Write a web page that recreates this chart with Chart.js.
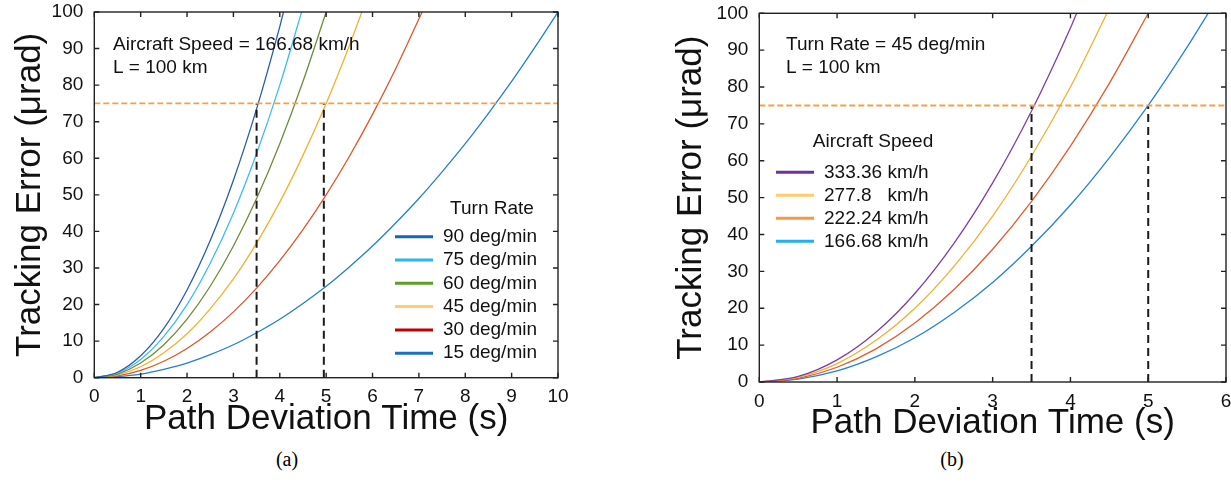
<!DOCTYPE html>
<html>
<head>
<meta charset="utf-8">
<script src="https://cdn.jsdelivr.net/npm/chart.js@4.4.0/dist/chart.umd.min.js"></script>
<style>
  body { margin: 0; background: #fff; }
  #wrap { position: relative; width: 1231px; height: 499px; overflow: hidden; background: #fff; }
  .panel { position: absolute; top: 0; }
  .cap { position: absolute; top: 448px; width: 60px; text-align: center;
         font: 20px "Liberation Serif", "Times New Roman", serif; color: #000; }
</style>
</head>
<body>
<div id="wrap">
  <canvas id="chartA" class="panel" style="left:0" width="615" height="440"></canvas>
  <canvas id="chartB" class="panel" style="left:615px" width="625" height="444"></canvas>
  <div class="cap" style="left:257px">(a)</div>
  <div class="cap" style="left:922px">(b)</div>
</div>
<script>
const FONT = '"Liberation Sans", Arial, sans-serif';

// panel (a): different turn rates, aircraft speed 166.68 km/h
const timesA = [0, 0.5, 1, 1.5, 2, 2.5, 3, 3.5, 4, 4.5, 5, 5.5, 6, 6.5, 7, 7.5, 8, 8.5, 9, 9.5, 10];
const turnRates = ['90 deg/min', '75 deg/min', '60 deg/min', '45 deg/min', '30 deg/min', '15 deg/min'];
const err90 = [0, 1.5, 6, 13.5, 24, 37.5, 54, 73.5, 96];
const err75 = [0, 1.3, 5, 11.3, 20, 31.3, 45, 61.3, 80];
const err60 = [0, 1, 4, 9, 16, 25, 36, 49, 64, 81, 100];
const err45 = [0, 0.8, 3, 6.8, 12, 18.8, 27, 36.8, 48, 60.8, 75, 90.8];
const err30 = [0, 0.5, 2, 4.5, 8, 12.5, 18, 24.5, 32, 40.5, 50, 60.5, 72, 84.5];
const err15 = [0, 0.3, 1, 2.3, 4, 6.3, 9, 12.3, 16, 20.3, 25, 30.3, 36, 42.3, 49, 56.3, 64, 72.3, 81, 90.3, 100];
// time at which each curve leaves the top of the frame (100 urad)
const exitA = [4.08, 4.47, 5.0, 5.77, 7.07, 10];
const dropTimesA = [3.5, 4.95];

// panel (b): different aircraft speeds, turn rate 45 deg/min
const timesB = [0, 0.5, 1, 1.5, 2, 2.5, 3, 3.5, 4, 4.5, 5, 5.5, 6];
const speeds = ['333.36 km/h', '277.8   km/h', '222.24 km/h', '166.68 km/h'];
const errS333 = [0, 1.5, 6, 13.5, 24, 37.5, 54, 73.5, 96];
const errS278 = [0, 1.3, 5, 11.3, 20, 31.3, 45, 61.3, 80];
const errS222 = [0, 1, 4, 9, 16, 25, 36, 49, 64, 81, 100];
const errS167 = [0, 0.8, 3, 6.8, 12, 18.8, 27, 36.8, 48, 60.8, 75, 90.8];
const exitB = [4.08, 4.47, 5.0, 5.77];
const dropTimesB = [3.5, 5.0];

const limitErr = 75;

const colorsA = ['#2a5ea8', '#3cbdf2', '#6e8c3a', '#f4b02e', '#e05628', '#2380cf'];
const keyColorsA = ['#1565c0', '#29b6f6', '#5f9c2a', '#ffcc66', '#c00000', '#1a6fc4'];
const colorsB = ['#7e3fa5', '#f0b030', '#e35b2b', '#2583cf'];
const keyColorsB = ['#7030a0', '#ffcc66', '#f79646', '#20b0f0'];

function toPoints(times, vals, exitT) {
    const pts = vals.map((v, i) => ({ x: times[i], y: v }));
    if (exitT > times[vals.length - 1]) {
        pts.push({ x: exitT, y: 100 });
    }
    return pts;
}

function curveSets(times, series, labels, exits, colors, keyColors) {
    return series.map((vals, i) => ({
        label: labels[i],
        data: toPoints(times, vals, exits[i]),
        borderColor: colors[i],
        legendColor: keyColors[i],
        borderWidth: 1.3,
        pointRadius: 0,
        cubicInterpolationMode: 'monotone',
        order: 1
    }));
}

function guideSets(xMax, drops) {
    const sets = [{
        data: [{ x: 0, y: limitErr }, { x: xMax, y: limitErr }],
        borderColor: '#f7a042',
        borderWidth: 1.8,
        borderDash: [6, 3],
        pointRadius: 0,
        order: 0
    }];
    drops.forEach(t => {
        sets.push({
            data: [{ x: t, y: 0 }, { x: t, y: limitErr }],
            borderColor: '#1a1a1a',
            borderWidth: 2,
            borderDash: [8, 5],
            pointRadius: 0,
            order: 0
        });
    });
    return sets;
}

// frame with inward tick marks, text notes and the legend box
const panelDeco = {
    id: 'panelDeco',
    afterDraw( chart, args, opts ){
        const { ctx, chartArea: a, scales: { x, y } } = chart;
        ctx.save();
        ctx.strokeStyle = '#222';
        ctx.lineWidth = 1.4;
        ctx.strokeRect(a.left, a.top, a.right - a.left, a.bottom - a.top);
        ctx.beginPath();
        x.ticks.forEach(t => {
            const px = x.getPixelForValue(t.value);
            ctx.moveTo(px, a.bottom); ctx.lineTo(px, a.bottom - 5);
            ctx.moveTo(px, a.top); ctx.lineTo(px, a.top + 5);
        });
        y.ticks.forEach(t => {
            const py = y.getPixelForValue(t.value);
            ctx.moveTo(a.left, py); ctx.lineTo(a.left + 5, py);
            ctx.moveTo(a.right, py); ctx.lineTo(a.right - 5, py);
        });
        ctx.stroke();

        ctx.font = '19px ' + FONT;
        ctx.fillStyle = '#111';
        ctx.textBaseline = 'middle';
        ctx.textAlign = 'left';
        opts.notes.forEach(n => ctx.fillText(n.text, n.x, n.y));

        const lg = opts.legend;
        ctx.textAlign = 'center';
        ctx.fillText(lg.title, lg.titleX, lg.titleY);
        ctx.textAlign = 'left';
        chart.data.datasets.filter(d => d.legendColor).forEach((d, i) => {
            const yy = lg.y0 + i * lg.step;
            ctx.strokeStyle = d.legendColor;
            ctx.lineWidth = 3;
            ctx.beginPath();
            ctx.moveTo(lg.x0, yy);
            ctx.lineTo(lg.x1, yy);
            ctx.stroke();
            ctx.fillText(d.label, lg.textX, yy);
        });
        ctx.restore();
    }
};

function makeOptions(xMax, yFitW, yTitlePad, xFitH, padding, deco) {
    return {
        responsive: false,
        animation: false,
        events: [],
        layout: { padding: padding },
        scales: {
            x: {
                type: 'linear', min: 0, max: xMax,
                ticks: { stepSize: 1, color: '#111', font: { size: 19, family: FONT }, padding: 8, maxRotation: 0 },
                grid: { display: false, drawTicks: false },
                border: { display: false },
                title: { display: true, text: 'Path Deviation Time (s)', color: '#111',
                         font: { size: 35, family: FONT }, padding: { top: 0, bottom: 0 } },
                afterFit( s ){
                    s.height = xFitH;
                    s.paddingLeft = 0;
                    s.paddingRight = 0;
                }
            },
            y: {
                type: 'linear', min: 0, max: 100,
                ticks: { stepSize: 10, color: '#111', font: { size: 19, family: FONT }, padding: 11 },
                grid: { display: false, drawTicks: false },
                border: { display: false },
                title: { display: true, text: 'Tracking Error (\u03bcrad)', color: '#111',
                         font: { size: 35, family: FONT }, padding: { top: yTitlePad, bottom: 0 } },
                afterFit( s ){
                    s.width = yFitW;
                    s.paddingTop = 0;
                    s.paddingBottom = 0;
                }
            }
        },
        plugins: {
            legend: { display: false },
            tooltip: { enabled: false },
            panelDeco: deco
        }
    };
}

new Chart(document.getElementById('chartA'), {
    type: 'line',
    data: {
        datasets: guideSets(10, dropTimesA).concat(
            curveSets(timesA, [err90, err75, err60, err45, err30, err15], turnRates, exitA, colorsA, keyColorsA))
    },
    options: makeOptions(10, 94.3, 9, 62.3, { left: 0, top: 12, right: 57, bottom: 0 }, {
        notes: [
            { text: 'Aircraft Speed = 166.68 km/h', x: 113, y: 45 },
            { text: 'L = 100 km', x: 113, y: 68 }
        ],
        legend: { title: 'Turn Rate', titleX: 492, titleY: 209, x0: 395, x1: 433, textX: 443, y0: 236.7, step: 23.3 }
    }),
    plugins: [panelDeco]
});

new Chart(document.getElementById('chartB'), {
    type: 'line',
    data: {
        datasets: guideSets(6, dropTimesB).concat(
            curveSets(timesB, [errS333, errS278, errS222, errS167], speeds, exitB, colorsB, keyColorsB))
    },
    options: makeOptions(6, 144.3, 55, 62, { left: 0, top: 13.3, right: 14, bottom: 0 }, {
        notes: [
            { text: 'Turn Rate = 45 deg/min', x: 171, y: 45 },
            { text: 'L = 100 km', x: 171, y: 68 }
        ],
        legend: { title: 'Aircraft Speed', titleX: 258, titleY: 142, x0: 161, x1: 199, textX: 209, y0: 172.3, step: 23 }
    }),
    plugins: [panelDeco]
});
</script>
</body>
</html>
